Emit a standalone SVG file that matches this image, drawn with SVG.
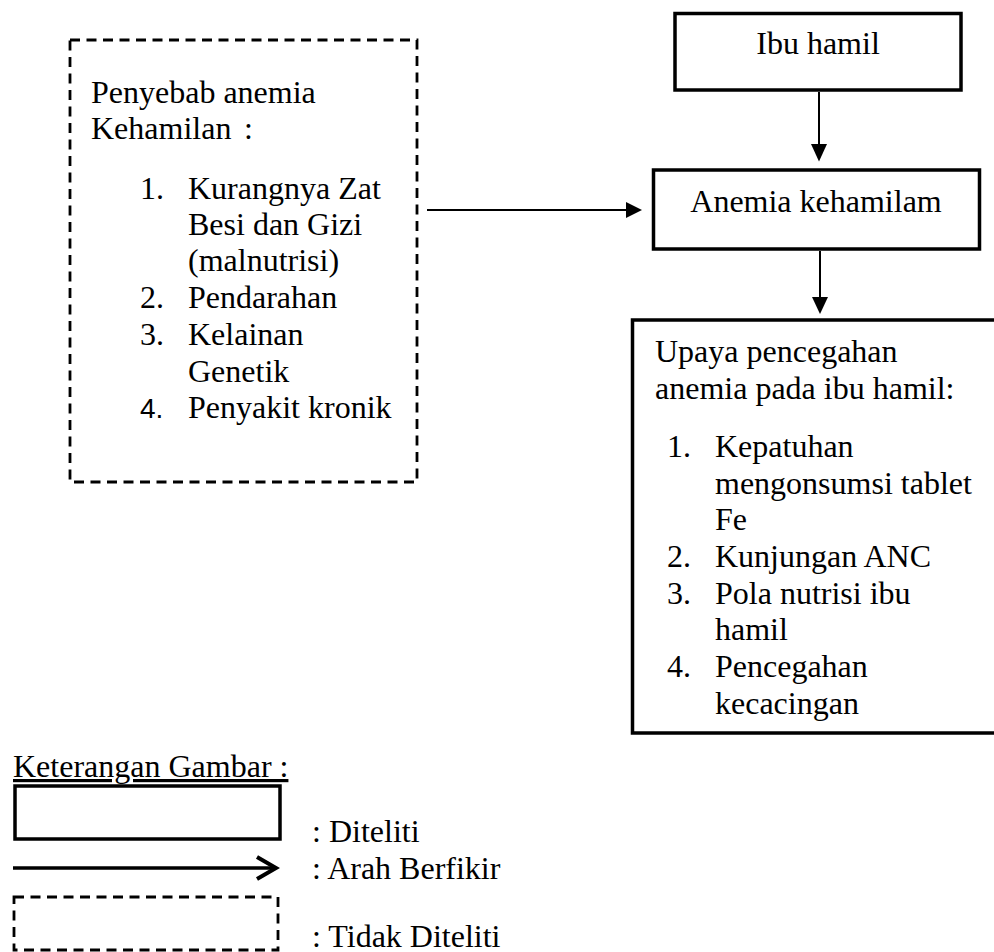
<svg xmlns="http://www.w3.org/2000/svg" width="994" height="952" viewBox="0 0 994 952">
<style>
  text { font-family: "Liberation Serif", "Times New Roman", serif; font-size: 32px; fill: #000; }
  .num4 { font-family: "Liberation Sans", Arial, sans-serif; font-size: 28px; }
  .mid { text-anchor: middle; }
  .solid { fill: #fff; stroke: #000; stroke-width: 3.5; }
  .dashed { fill: none; stroke: #000; stroke-width: 2.8; stroke-dasharray: 10 6.5; }
  .conn { stroke: #000; stroke-width: 2; fill: none; }
  .head { fill: #000; stroke: none; }
</style>
<rect width="994" height="952" fill="#fff"/>

<g id="penyebab">
  <rect class="dashed" x="70" y="40" width="347" height="442"/>
  <text x="91" y="102.5">Penyebab anemia</text>
  <text x="91" y="139">Kehamilan</text>
  <text x="244" y="139">:</text>
  <text x="140" y="198.5">1.</text>
  <text x="188" y="198.5">Kurangnya Zat</text>
  <text x="188" y="234.5">Besi dan Gizi</text>
  <text x="188" y="271">(malnutrisi)</text>
  <text x="140" y="308">2.</text>
  <text x="188" y="308">Pendarahan</text>
  <text x="140" y="345">3.</text>
  <text x="188" y="345">Kelainan</text>
  <text x="188" y="381.5">Genetik</text>
  <text class="num4" x="140" y="418">4.</text>
  <text x="188" y="418">Penyakit kronik</text>
</g>

<g id="ibu-hamil">
  <rect class="solid" x="675" y="13.5" width="286" height="76.5"/>
  <text class="mid" x="818" y="54">Ibu hamil</text>
</g>

<g id="anemia">
  <rect class="solid" x="653.5" y="170" width="326" height="79"/>
  <text class="mid" x="816" y="211.5">Anemia kehamilam</text>
</g>

<g id="upaya">
  <rect class="solid" x="632.5" y="320" width="372" height="413"/>
  <text x="655" y="361.5">Upaya pencegahan</text>
  <text x="655" y="398.5">anemia pada ibu hamil:</text>
  <text x="667" y="456.5">1.</text>
  <text x="715" y="456.5">Kepatuhan</text>
  <text x="715" y="493.5">mengonsumsi tablet</text>
  <text x="715" y="530">Fe</text>
  <text x="667" y="566.5">2.</text>
  <text x="715" y="566.5">Kunjungan ANC</text>
  <text x="667" y="603.5">3.</text>
  <text x="715" y="603.5">Pola nutrisi ibu</text>
  <text x="715" y="640">hamil</text>
  <text x="667" y="676.5">4.</text>
  <text x="715" y="676.5">Pencegahan</text>
  <text x="715" y="713.5">kecacingan</text>
</g>

<g id="connectors">
  <line class="conn" x1="819" y1="92" x2="819" y2="146"/>
  <polygon class="head" points="811,144 827,144 819,161.5"/>
  <line class="conn" x1="820" y1="251" x2="820" y2="299"/>
  <polygon class="head" points="812,297 828,297 820,314"/>
  <line class="conn" x1="427" y1="210" x2="628" y2="210"/>
  <polygon class="head" points="626,202 626,218 642,210"/>
</g>

<g id="legend">
  <text x="13" y="777" text-decoration="underline">Keterangan Gambar :</text>
  <rect class="solid" x="15" y="786" width="265" height="53"/>
  <line x1="13" y1="868" x2="275" y2="868" stroke="#000" stroke-width="3.5"/>
  <polyline points="257,857 276,868 257,879" fill="none" stroke="#000" stroke-width="4"/>
  <rect class="dashed" x="14" y="897" width="264" height="53"/>
  <text x="312" y="841.5">: Diteliti</text>
  <text x="312" y="879">: Arah Berfikir</text>
  <text x="312" y="946.5">: Tidak Diteliti</text>
</g>
</svg>
